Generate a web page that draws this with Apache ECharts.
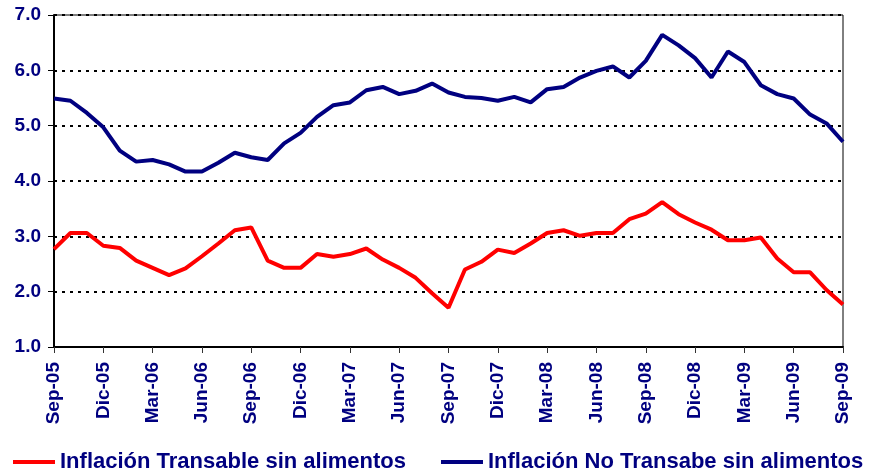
<!DOCTYPE html>
<html>
<head>
<meta charset="utf-8">
<script src="https://cdn.jsdelivr.net/npm/echarts@6/dist/echarts.min.js"></script>
<style>
html,body{margin:0;padding:0;background:#fff;}
#chart{width:871px;height:472px;}
</style>
</head>
<body>
<div id="chart"></div>
<script>
var categories = [
  'Sep-05','Oct-05','Nov-05','Dic-05','Ene-06','Feb-06','Mar-06','Abr-06','May-06','Jun-06','Jul-06','Ago-06',
  'Sep-06','Oct-06','Nov-06','Dic-06','Ene-07','Feb-07','Mar-07','Abr-07','May-07','Jun-07','Jul-07','Ago-07',
  'Sep-07','Oct-07','Nov-07','Dic-07','Ene-08','Feb-08','Mar-08','Abr-08','May-08','Jun-08','Jul-08','Ago-08',
  'Sep-08','Oct-08','Nov-08','Dic-08','Ene-09','Feb-09','Mar-09','Abr-09','May-09','Jun-09','Jul-09','Ago-09',
  'Sep-09'
];
var transable = [
  2.77,3.06,3.06,2.83,2.79,2.56,2.43,2.30,2.42,2.64,2.87,3.11,
  3.16,2.56,2.43,2.43,2.68,2.63,2.68,2.78,2.58,2.43,2.25,1.97,
  1.71,2.40,2.54,2.76,2.70,2.87,3.06,3.11,3.01,3.06,3.06,3.31,
  3.41,3.62,3.40,3.25,3.12,2.93,2.93,2.98,2.60,2.35,2.35,2.03,
  1.77
];
var noTransable = [
  5.49,5.45,5.23,4.97,4.55,4.35,4.38,4.30,4.17,4.17,4.33,4.51,
  4.43,4.38,4.68,4.87,5.16,5.37,5.42,5.64,5.70,5.57,5.63,5.76,
  5.60,5.52,5.50,5.45,5.52,5.42,5.66,5.70,5.87,5.99,6.07,5.87,
  6.17,6.64,6.45,6.22,5.87,6.34,6.15,5.73,5.57,5.49,5.20,5.04,
  4.71
];
var seriesNames = ['Inflación Transable sin alimentos','Inflación No Transabe sin alimentos'];
var yMin = 1, yMax = 7, yStep = 1;

var navy = '#000080';
var chart = echarts.init(document.getElementById('chart'));
chart.setOption({
  backgroundColor: '#ffffff',
  animation: false,
  grid: {left: 54, right: 28, top: 15, bottom: 125, show: true, borderColor: '#000', borderWidth: 1, backgroundColor: 'transparent'},
  legend: {
    left: 8, top: 446,
    itemWidth: 42, itemHeight: 4, itemGap: 35,
    icon: 'rect',
    textStyle: {color: navy, fontFamily: 'Liberation Sans', fontWeight: 'bold', fontSize: 22},
    data: seriesNames
  },
  xAxis: {
    type: 'category', data: categories, boundaryGap: false,
    axisLine: {lineStyle: {color: '#000', width: 2}},
    axisTick: {show: true, interval: 2, length: 6, lineStyle: {color: '#333', width: 1}},
    axisLabel: {interval: 2, rotate: 90, margin: 15, color: navy, fontFamily: 'Liberation Sans', fontWeight: 'bold', fontSize: 19},
    splitLine: {show: false}
  },
  yAxis: {
    type: 'value', min: yMin, max: yMax, interval: yStep,
    axisLine: {show: true, lineStyle: {color: '#000', width: 2}},
    axisTick: {show: true, length: 6, lineStyle: {color: '#000', width: 1}},
    axisLabel: {margin: 13, color: navy, fontFamily: 'Liberation Sans', fontWeight: 'bold', fontSize: 19,
      formatter: function (v) { return v.toFixed(1); }},
    splitLine: {show: true, lineStyle: {color: '#000', width: 2, type: [3, 5]}}
  },
  series: [
    {name: seriesNames[0], type: 'line', data: transable, showSymbol: false, symbol: 'none',
     lineStyle: {color: '#ff0000', width: 4}, itemStyle: {color: '#ff0000'}},
    {name: seriesNames[1], type: 'line', data: noTransable, showSymbol: false, symbol: 'none',
     lineStyle: {color: '#000080', width: 4}, itemStyle: {color: '#000080'}}
  ]
});
</script>
</body>
</html>
